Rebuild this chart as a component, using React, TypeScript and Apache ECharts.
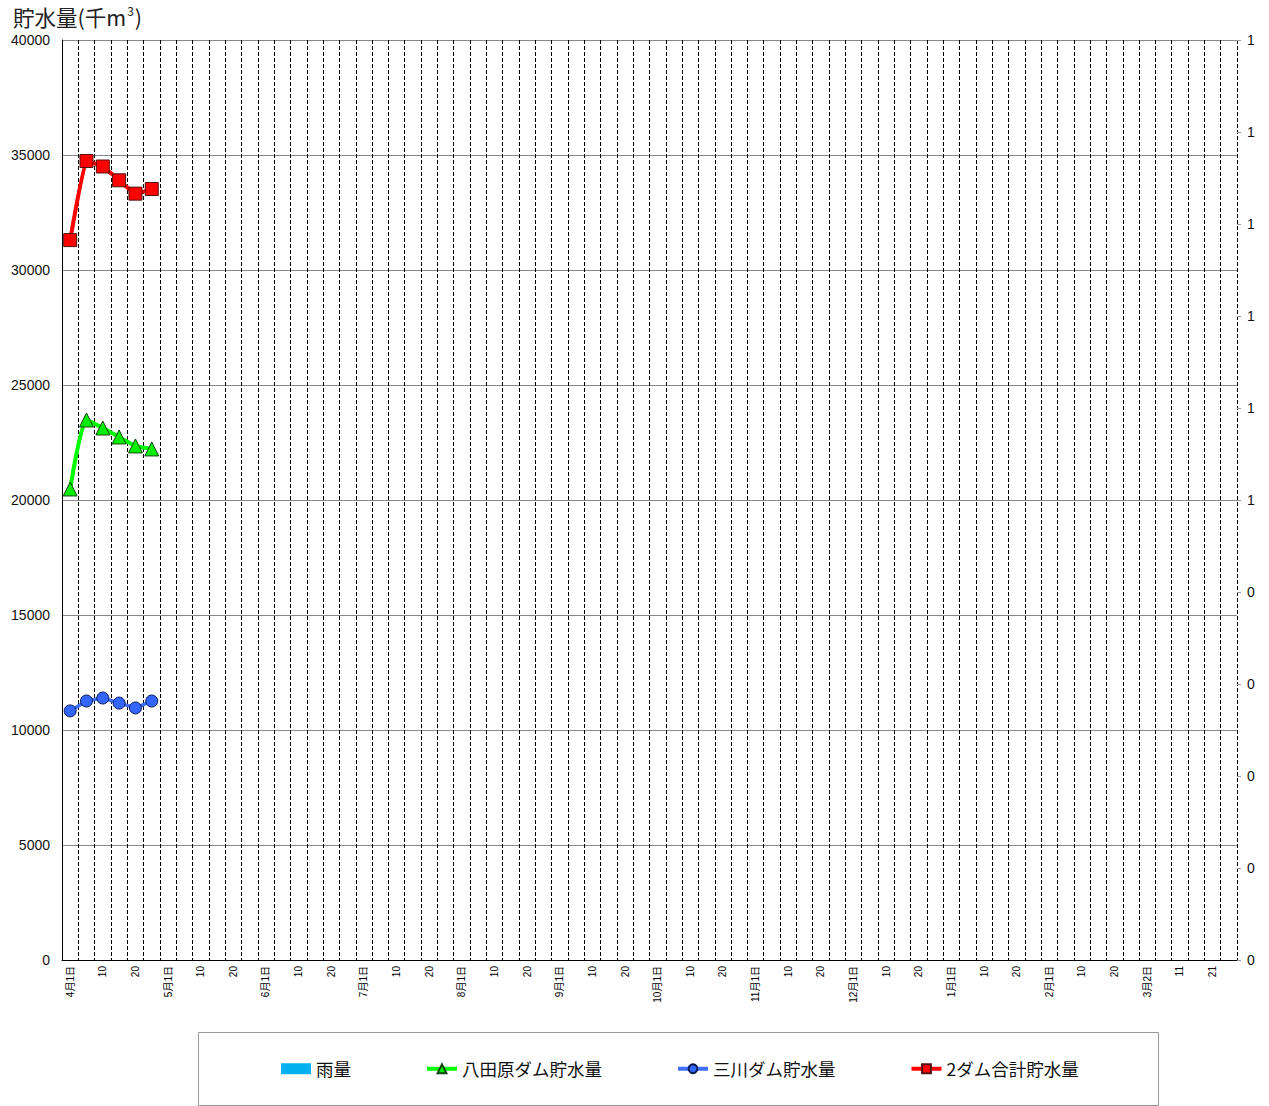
import React, { useEffect, useRef } from "react";
import * as echarts from "echarts";

const months = ["4", "5", "6", "7", "8", "9", "10", "11", "12", "1", "2", "3"];
const daysNormal = ["1", "5", "10", "15", "20", "25"];
const daysMarch = ["2", "6", "11", "16", "21", "26"];
const categories: string[] = [];
months.forEach((m) => {
  const d = m === "3" ? daysMarch : daysNormal;
  d.forEach((day, i) => {
    categories.push(i === 0 ? `${m}月${day}日` : day);
  });
});

const rainfall: (number | null)[] = [];
const hattabaraStorage = [20480, 23480, 23130, 22740, 22350, 22220];
const mikawaStorage = [10830, 11260, 11390, 11170, 10960, 11260];
const totalStorage = [31300, 34740, 34500, 33900, 33320, 33520];

const leftTicks = { min: 0, max: 40000, interval: 5000 };
const rightTicks = { min: 0, max: 1, interval: 0.1 };

const FONT = '"Liberation Sans", "Noto Sans CJK JP", sans-serif';
const CJK = '"Noto Sans CJK JP", "Liberation Sans", sans-serif';

export default function App() {
  const ref = useRef<HTMLDivElement>(null);
  useEffect(() => {
    document.body.style.margin = "0";
    document.body.style.overflow = "hidden";
    const chart = echarts.init(ref.current!, undefined, { renderer: "svg" });
    chart.setOption({
      animation: false,
      backgroundColor: "#ffffff",
      textStyle: { fontFamily: FONT },
      title: {
        text: "貯水量(千m{sup|3})",
        left: 8,
        top: -1,
        textStyle: {
          fontSize: 21.5,
          fontWeight: "normal",
          color: "#222",
          fontFamily: CJK,
          rich: {
            sup: { fontSize: 12, verticalAlign: "top", padding: [0, 1, 12, 1], color: "#222", fontFamily: CJK },
          },
        },
      },
      graphic: [
        {
          type: "rect",
          shape: { x: 198.5, y: 1032.5, width: 960, height: 73 },
          style: { fill: "none", stroke: "#999", lineWidth: 1 },
          silent: true,
        },
      ],
      legend: {
        left: 276,
        top: 1055,
        itemGap: 74,
        itemWidth: 30,
        itemHeight: 11,
        textStyle: { fontSize: 17.5, color: "#111", fontFamily: CJK },
        data: [
          { name: "雨量", icon: "rect", itemStyle: { color: "#00b0f0" } },
          { name: "八田原ダム貯水量", lineStyle: { width: 4 } },
          { name: "三川ダム貯水量", lineStyle: { width: 4 } },
          { name: "2ダム合計貯水量", lineStyle: { width: 4 } },
        ],
      },
      grid: { left: 62, top: 40, width: 1175, height: 920, containLabel: false },
      xAxis: {
        type: "category",
        data: categories,
        boundaryGap: true,
        axisLine: { lineStyle: { color: "#000", width: 1 } },
        axisTick: { show: false },
        axisLabel: {
          interval: 1,
          rotate: 90,
          fontSize: 10,
          color: "#000",
          margin: 6,
          fontFamily: FONT,
        },
        splitLine: {
          show: true,
          interval: 0,
          lineStyle: { color: "#000", width: 1, type: [4, 2] },
        },
      },
      yAxis: [
        {
          type: "value",
          min: leftTicks.min,
          max: leftTicks.max,
          interval: leftTicks.interval,
          axisLine: { show: true, lineStyle: { color: "#000", width: 1 } },
          axisTick: { show: false },
          axisLabel: {
            fontSize: 14,
            color: "#111",
            margin: 12,
            fontFamily: FONT,
            formatter: (v: number) => String(v),
          },
          splitLine: { show: true, lineStyle: { color: "#888", width: 1 } },
        },
        {
          type: "value",
          position: "right",
          min: rightTicks.min,
          max: rightTicks.max,
          interval: rightTicks.interval,
          axisLine: { show: false },
          axisTick: { show: true, length: 4, lineStyle: { color: "#999" } },
          axisLabel: {
            fontSize: 14,
            color: "#111",
            margin: 10,
            fontFamily: FONT,
            formatter: (v: number) => String(Math.round(v)),
          },
          splitLine: { show: false },
        },
      ],
      series: [
        {
          name: "雨量",
          type: "bar",
          yAxisIndex: 1,
          data: rainfall,
          itemStyle: { color: "#00b0f0" },
        },
        {
          name: "八田原ダム貯水量",
          type: "line",
          data: hattabaraStorage,
          smooth: 0.2,
          showAllSymbol: true,
          symbol: "triangle",
          symbolSize: 14,
          lineStyle: { color: "#00ff00", width: 4 },
          itemStyle: { color: "#00ee00", borderColor: "#114411", borderWidth: 1 },
          z: 3,
        },
        {
          name: "三川ダム貯水量",
          type: "line",
          data: mikawaStorage,
          showAllSymbol: true,
          symbol: "circle",
          symbolSize: 12,
          lineStyle: { color: "#3f6fff", width: 3.5 },
          itemStyle: { color: "#3366ff", borderColor: "#0a1a55", borderWidth: 1 },
          z: 3,
        },
        {
          name: "2ダム合計貯水量",
          type: "line",
          data: totalStorage,
          smooth: 0.1,
          showAllSymbol: true,
          symbol: "rect",
          symbolSize: 13,
          lineStyle: { color: "#ff0000", width: 4 },
          itemStyle: { color: "#ff0000", borderColor: "#551111", borderWidth: 1 },
          z: 3,
        },
      ],
    });
    return () => chart.dispose();
  }, []);
  return <div ref={ref} style={{ width: 1269, height: 1106 }} />;
}
